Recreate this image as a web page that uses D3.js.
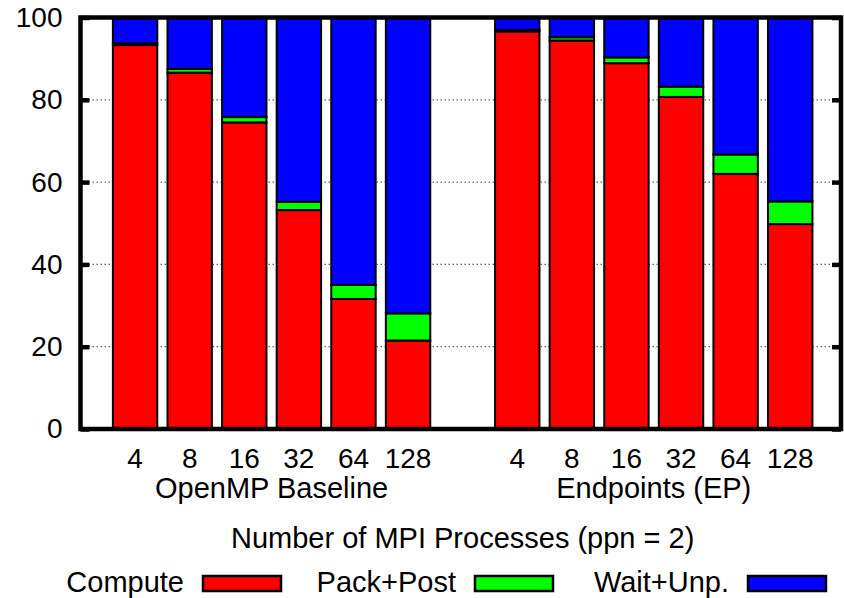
<!DOCTYPE html>
<html>
<head>
<meta charset="utf-8">
<script src="https://cdn.jsdelivr.net/npm/d3@7"></script>
<style>
  html, body { margin: 0; padding: 0; background: #fff; }
  svg { display: block; }
  text { font-family: "Liberation Sans", Arial, Helvetica, sans-serif; fill: #000; }
</style>
</head>
<body>
<svg id="chart" width="844" height="598"></svg>
<script>
// ---- data ----
const procs = ["4", "8", "16", "32", "64", "128"];
const groups = ["OpenMP Baseline", "Endpoints (EP)"];
const seriesNames = ["Compute", "Pack+Post", "Wait+Unp."];
const seriesColors = ["#ff0000", "#00ff00", "#0000ff"];
const baselineCompute = [93.3, 86.6, 74.5, 53.2, 31.6, 21.5];
const baselinePack    = [0.4, 0.9, 1.3, 2.0, 3.4, 6.6];
const baselineWait    = [6.3, 12.5, 24.2, 44.8, 65.0, 71.9];
const epCompute = [96.6, 94.4, 88.9, 80.7, 62.0, 49.8];
const epPack    = [0.4, 0.8, 1.4, 2.5, 4.7, 5.5];
const epWait    = [3.0, 4.8, 9.7, 16.8, 33.3, 44.7];
const yTicks = [0, 20, 40, 60, 80, 100];
const xLabel = "Number of MPI Processes (ppn = 2)";

(function () {
// ---- build rows ----
const rows = [];
procs.forEach((p, i) => rows.push({slot: i, label: p, vals: [baselineCompute[i], baselinePack[i], baselineWait[i]]}));
procs.forEach((p, i) => rows.push({slot: i + 7, label: p, vals: [epCompute[i], epPack[i], epWait[i]]}));

const svg = d3.select("#chart");
const pL = 80.5, pR = 841, pT = 17.5, pB = 429;
const x = d3.scaleLinear().domain([-1, 12.93]).range([pL, pR]);
const y = d3.scaleLinear().domain([0, 100]).range([pB, pT]);
const pitch = x(1) - x(0);
const barW = pitch * 0.85 - 2;
const FS = 28, FL = 29;

// gridlines
svg.append("g").selectAll("line").data(yTicks.filter(t => t > 0 && t < 100)).join("line")
  .attr("x1", pL).attr("x2", pR)
  .attr("y1", d => y(d)).attr("y2", d => y(d))
  .attr("stroke", "#666").attr("stroke-width", 1.2).attr("stroke-dasharray", "1.5,2.5");

// bars
const stackData = rows.map(r => {
  let acc = 0;
  return r.vals.map((v, k) => { const s = {row: r, k, y0: acc, y1: acc + v}; acc += v; return s; });
}).flat();

svg.append("g").selectAll("rect").data(stackData).join("rect")
  .attr("x", d => x(d.row.slot) - barW / 2)
  .attr("width", barW)
  .attr("y", d => y(d.y1))
  .attr("height", d => Math.max(0, y(d.y0) - y(d.y1)))
  .attr("fill", d => seriesColors[d.k])
  .attr("stroke", "#000").attr("stroke-width", 2);

// frame
svg.append("rect").attr("x", pL).attr("y", pT).attr("width", pR - pL).attr("height", pB - pT)
  .attr("fill", "none").attr("stroke", "#000").attr("stroke-width", 4.5);

// y ticks (left and right, inward)
const yAxisL = d3.axisLeft(y).tickValues(yTicks).tickSize(-9).tickPadding(18);
const gL = svg.append("g").attr("transform", `translate(${pL},0)`).call(yAxisL);
gL.select(".domain").remove();
gL.selectAll(".tick line").attr("stroke", "#000").attr("stroke-width", 4.5);
gL.selectAll(".tick text").attr("font-size", FS).attr("font-family", "Liberation Sans, Arial, sans-serif").attr("fill", "#000");

const yAxisR = d3.axisRight(y).tickValues(yTicks).tickSize(-9).tickFormat("");
const gR = svg.append("g").attr("transform", `translate(${pR},0)`).call(yAxisR);
gR.select(".domain").remove();
gR.selectAll(".tick line").attr("stroke", "#000").attr("stroke-width", 4.5);

// x tick labels
svg.append("g").selectAll("text").data(rows).join("text")
  .attr("x", d => x(d.slot)).attr("y", 468)
  .attr("text-anchor", "middle").attr("font-size", FS)
  .text(d => d.label);

// group labels
svg.append("g").selectAll("text").data(groups).join("text")
  .attr("x", (d, i) => (x(i * 7) + x(i * 7 + 5)) / 2).attr("y", 498)
  .attr("text-anchor", "middle").attr("font-size", FL)
  .text(d => d);

// x label
svg.append("text").attr("x", x(6)).attr("y", 548).attr("text-anchor", "middle").attr("font-size", FL).text(xLabel);

// legend
const legendBoxX = [202, 474, 747];
const lg = svg.append("g").selectAll("g").data(seriesNames).join("g");
lg.append("text").attr("x", (d, i) => legendBoxX[i] - 18).attr("y", 592)
  .attr("text-anchor", "end").attr("font-size", FL).text(d => d);
lg.append("rect").attr("x", (d, i) => legendBoxX[i] + 1).attr("y", 576)
  .attr("width", 78).attr("height", 15)
  .attr("fill", (d, i) => seriesColors[i]).attr("stroke", "#000").attr("stroke-width", 2.5);
})();
</script>
</body>
</html>
